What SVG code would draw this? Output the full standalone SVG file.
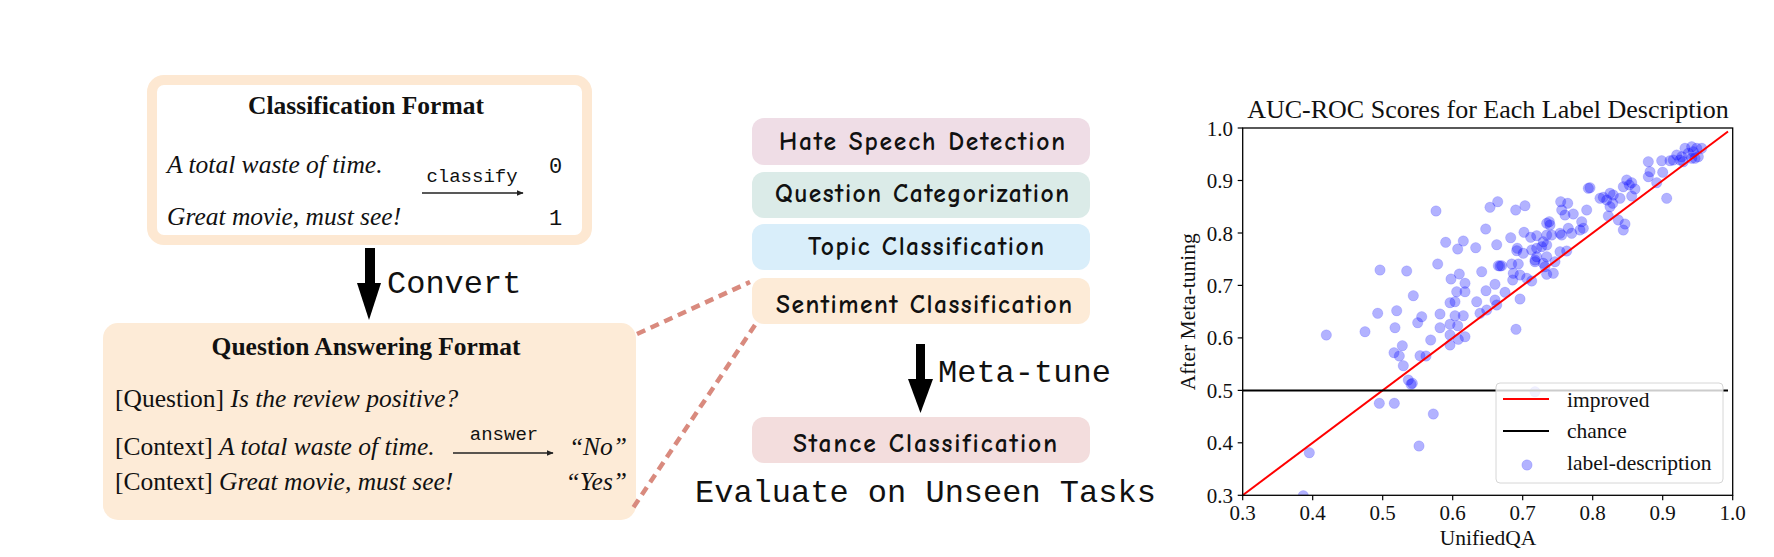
<svg xmlns="http://www.w3.org/2000/svg" width="1774" height="557" viewBox="0 0 1774 557">
<style>
.serif{font-family:"Liberation Serif","Times New Roman",serif;fill:#111}
.it{font-style:italic}
.mono{font-family:"Liberation Mono","Courier New",monospace;fill:#111}
.comic{font-family:"Comic Sans MS","Comic Neue","Open Sans",sans-serif;font-size:25.5px;font-weight:600;fill:#111}
.task{rx:12;ry:12}
.pt{fill:#0000ff;fill-opacity:0.3;stroke:#0000ff;stroke-opacity:0.12;stroke-width:1}
.tick{stroke:#000;stroke-width:1.2}
.tl{font-family:"Liberation Serif","Times New Roman",serif;font-size:21px;fill:#111}
.dash{stroke:#d98a7e;stroke-width:4.5;stroke-dasharray:9 6;fill:none}
</style>
<defs>
<marker id="ah" viewBox="0 0 10 10" refX="9" refY="5" markerWidth="7" markerHeight="7" markerUnits="userSpaceOnUse" orient="auto">
<path d="M0,1 L10,5 L0,9 z" fill="#222"/>
</marker>
<clipPath id="plotclip"><rect x="1242.7" y="128" width="490" height="367.3"/></clipPath>
</defs>
<rect width="1774" height="557" fill="#fff"/>

<g id="classification-format">
<rect x="152" y="80" width="435" height="160" rx="12" fill="#fff" stroke="#fde8d2" stroke-width="10"/>
<text class="serif" x="366" y="114" font-size="25.5" font-weight="bold" text-anchor="middle">Classification Format</text>
<text class="serif it" x="167" y="173" font-size="25.5">A total waste of time.</text>
<text class="serif it" x="167" y="225" font-size="25.5">Great movie, must see!</text>
<text class="mono" x="472" y="182" font-size="19" text-anchor="middle">classify</text>
<line x1="422" y1="193" x2="523" y2="193" stroke="#222" stroke-width="1.5" marker-end="url(#ah)"/>
<text class="mono" x="549" y="173" font-size="22">0</text>
<text class="mono" x="549" y="225" font-size="22">1</text>
</g>

<g id="qa-format">
<rect x="103" y="323" width="533" height="197" rx="15" fill="#fdebd7"/>
<text class="serif" x="366" y="355" font-size="25.5" font-weight="bold" text-anchor="middle">Question Answering Format</text>
<text class="serif" x="115" y="407" font-size="25.5">[Question] <tspan class="it">Is the review positive?</tspan></text>
<text class="serif" x="115" y="455" font-size="25.5">[Context] <tspan class="it">A total waste of time.</tspan></text>
<text class="serif" x="115" y="490" font-size="25.5">[Context] <tspan class="it">Great movie, must see!</tspan></text>
<text class="mono" x="504" y="440" font-size="19" text-anchor="middle">answer</text>
<line x1="453" y1="453" x2="553" y2="453" stroke="#222" stroke-width="1.5" marker-end="url(#ah)"/>
<text class="serif it" x="627" y="455" font-size="25.5" text-anchor="end">“No”</text>
<text class="serif it" x="627" y="490" font-size="25.5" text-anchor="end">“Yes”</text>
</g>

<g id="convert-arrow">
<rect x="365" y="248" width="10" height="36" fill="#000"/>
<polygon points="357,283 381,283 369,320" fill="#000"/>
<text class="mono" x="387" y="293" font-size="32">Convert</text>
</g>

<g id="task-hate">
<rect class="task" x="752" y="118" width="338" height="47" fill="#efdde6"/>
<text class="comic" x="779" y="150" textLength="286" lengthAdjust="spacing">Hate Speech Detection</text>
</g>
<g id="task-question">
<rect class="task" x="752" y="172" width="338" height="46" fill="#dbebe8"/>
<text class="comic" x="775" y="202" textLength="294" lengthAdjust="spacing">Question Categorization</text>
</g>
<g id="task-topic">
<rect class="task" x="752" y="224" width="338" height="46" fill="#d9eefa"/>
<text class="comic" x="808" y="255" textLength="236" lengthAdjust="spacing">Topic Classification</text>
</g>
<g id="task-sentiment">
<rect class="task" x="752" y="278" width="338" height="46" fill="#fdebd7"/>
<text class="comic" x="776" y="313" textLength="296" lengthAdjust="spacing">Sentiment Classification</text>
</g>
<g id="task-stance">
<rect class="task" x="752" y="417" width="338" height="46" fill="#f3dddd"/>
<text class="comic" x="793" y="452" textLength="264" lengthAdjust="spacing">Stance Classification</text>
</g>

<g id="meta-tune-arrow">
<rect x="916" y="344" width="9" height="36" fill="#000"/>
<polygon points="908,379 933,379 920.5,413" fill="#000"/>
<text class="mono" x="938" y="382" font-size="32">Meta-tune</text>
</g>

<g id="evaluate-label">
<text class="mono" x="695" y="502" font-size="32">Evaluate on Unseen Tasks</text>
</g>

<g id="connectors">
<line class="dash" x1="637" y1="334" x2="750" y2="282"/>
<line class="dash" x1="755" y1="325" x2="633" y2="508"/>
</g>

<g id="chart">
<text class="serif" x="1488" y="118" font-size="26" text-anchor="middle">AUC-ROC Scores for Each Label Description</text>
<g id="scatter" clip-path="url(#plotclip)">
<circle class="pt" cx="1685" cy="148.3" r="5.2"/><circle class="pt" cx="1691.7" cy="146.7" r="5.2"/><circle class="pt" cx="1696.7" cy="148.3" r="5.2"/><circle class="pt" cx="1701.7" cy="148.3" r="5.2"/><circle class="pt" cx="1693.3" cy="151.7" r="5.2"/><circle class="pt" cx="1688.3" cy="153.3" r="5.2"/><circle class="pt" cx="1676.7" cy="155" r="5.2"/><circle class="pt" cx="1681.7" cy="156.7" r="5.2"/><circle class="pt" cx="1673.3" cy="160" r="5.2"/><circle class="pt" cx="1670" cy="160.7" r="5.2"/><circle class="pt" cx="1680" cy="160" r="5.2"/><circle class="pt" cx="1695" cy="158.3" r="5.2"/><circle class="pt" cx="1698.3" cy="156.7" r="5.2"/><circle class="pt" cx="1691.7" cy="158.3" r="5.2"/><circle class="pt" cx="1683.3" cy="161.7" r="5.2"/><circle class="pt" cx="1661.7" cy="160.7" r="5.2"/><circle class="pt" cx="1648.3" cy="161.7" r="5.2"/><circle class="pt" cx="1650" cy="171.7" r="5.2"/><circle class="pt" cx="1648.3" cy="176.7" r="5.2"/><circle class="pt" cx="1662.7" cy="172.3" r="5.2"/><circle class="pt" cx="1656.7" cy="182.7" r="5.2"/><circle class="pt" cx="1666.7" cy="198.3" r="5.2"/><circle class="pt" cx="1626.7" cy="180" r="5.2"/><circle class="pt" cx="1631.7" cy="182.7" r="5.2"/><circle class="pt" cx="1635" cy="189" r="5.2"/><circle class="pt" cx="1623.3" cy="186.7" r="5.2"/><circle class="pt" cx="1629.3" cy="185" r="5.2"/><circle class="pt" cx="1590" cy="187.7" r="5.2"/><circle class="pt" cx="1588.3" cy="188.3" r="5.2"/><circle class="pt" cx="1610" cy="193.3" r="5.2"/><circle class="pt" cx="1603.3" cy="197.3" r="5.2"/><circle class="pt" cx="1613.3" cy="195" r="5.2"/><circle class="pt" cx="1606.7" cy="200" r="5.2"/><circle class="pt" cx="1600" cy="198.3" r="5.2"/><circle class="pt" cx="1620" cy="198.3" r="5.2"/><circle class="pt" cx="1631.7" cy="196" r="5.2"/><circle class="pt" cx="1612.7" cy="203.3" r="5.2"/><circle class="pt" cx="1610" cy="206.7" r="5.2"/><circle class="pt" cx="1608.3" cy="216" r="5.2"/><circle class="pt" cx="1618.3" cy="220" r="5.2"/><circle class="pt" cx="1625" cy="224" r="5.2"/><circle class="pt" cx="1623.3" cy="230" r="5.2"/><circle class="pt" cx="1560.7" cy="201.7" r="5.2"/><circle class="pt" cx="1567.7" cy="203.3" r="5.2"/><circle class="pt" cx="1561.7" cy="210" r="5.2"/><circle class="pt" cx="1565" cy="215" r="5.2"/><circle class="pt" cx="1573.3" cy="214" r="5.2"/><circle class="pt" cx="1586.7" cy="210" r="5.2"/><circle class="pt" cx="1490" cy="207.3" r="5.2"/><circle class="pt" cx="1497.7" cy="201.7" r="5.2"/><circle class="pt" cx="1515.7" cy="210" r="5.2"/><circle class="pt" cx="1525" cy="205.7" r="5.2"/><circle class="pt" cx="1436" cy="211" r="5.2"/><circle class="pt" cx="1546.7" cy="223.3" r="5.2"/><circle class="pt" cx="1549.3" cy="221.7" r="5.2"/><circle class="pt" cx="1550" cy="225" r="5.2"/><circle class="pt" cx="1560" cy="233.3" r="5.2"/><circle class="pt" cx="1568.3" cy="228.3" r="5.2"/><circle class="pt" cx="1571.7" cy="233.3" r="5.2"/><circle class="pt" cx="1580" cy="230" r="5.2"/><circle class="pt" cx="1583.3" cy="228.3" r="5.2"/><circle class="pt" cx="1581.7" cy="221.7" r="5.2"/><circle class="pt" cx="1551.7" cy="235" r="5.2"/><circle class="pt" cx="1561.7" cy="235" r="5.2"/><circle class="pt" cx="1485.7" cy="229" r="5.2"/><circle class="pt" cx="1524" cy="232.3" r="5.2"/><circle class="pt" cx="1510.7" cy="237.7" r="5.2"/><circle class="pt" cx="1530.7" cy="237.3" r="5.2"/><circle class="pt" cx="1536.7" cy="235.7" r="5.2"/><circle class="pt" cx="1546.7" cy="235" r="5.2"/><circle class="pt" cx="1543.3" cy="241.7" r="5.2"/><circle class="pt" cx="1496.7" cy="244.7" r="5.2"/><circle class="pt" cx="1517.3" cy="248.3" r="5.2"/><circle class="pt" cx="1516.7" cy="250.7" r="5.2"/><circle class="pt" cx="1523.3" cy="253.3" r="5.2"/><circle class="pt" cx="1531.7" cy="250" r="5.2"/><circle class="pt" cx="1536.7" cy="248.3" r="5.2"/><circle class="pt" cx="1541.7" cy="246.7" r="5.2"/><circle class="pt" cx="1546.7" cy="245" r="5.2"/><circle class="pt" cx="1560" cy="251.7" r="5.2"/><circle class="pt" cx="1566.7" cy="251" r="5.2"/><circle class="pt" cx="1445.7" cy="242.3" r="5.2"/><circle class="pt" cx="1463.3" cy="241" r="5.2"/><circle class="pt" cx="1457.7" cy="249" r="5.2"/><circle class="pt" cx="1475.7" cy="247.7" r="5.2"/><circle class="pt" cx="1437.7" cy="264" r="5.2"/><circle class="pt" cx="1406.7" cy="271" r="5.2"/><circle class="pt" cx="1380" cy="270" r="5.2"/><circle class="pt" cx="1459.3" cy="274" r="5.2"/><circle class="pt" cx="1451" cy="279" r="5.2"/><circle class="pt" cx="1465" cy="283.3" r="5.2"/><circle class="pt" cx="1456.7" cy="291.7" r="5.2"/><circle class="pt" cx="1465" cy="291.7" r="5.2"/><circle class="pt" cx="1450" cy="302.7" r="5.2"/><circle class="pt" cx="1455" cy="301.7" r="5.2"/><circle class="pt" cx="1476.7" cy="301.7" r="5.2"/><circle class="pt" cx="1495" cy="284.3" r="5.2"/><circle class="pt" cx="1486" cy="290.7" r="5.2"/><circle class="pt" cx="1505" cy="292.3" r="5.2"/><circle class="pt" cx="1520" cy="299" r="5.2"/><circle class="pt" cx="1495" cy="300" r="5.2"/><circle class="pt" cx="1496.7" cy="305" r="5.2"/><circle class="pt" cx="1498.3" cy="265.7" r="5.2"/><circle class="pt" cx="1501.7" cy="265.7" r="5.2"/><circle class="pt" cx="1500" cy="266" r="5.2"/><circle class="pt" cx="1511.7" cy="264" r="5.2"/><circle class="pt" cx="1518.3" cy="264" r="5.2"/><circle class="pt" cx="1481.7" cy="271.7" r="5.2"/><circle class="pt" cx="1513.3" cy="273.3" r="5.2"/><circle class="pt" cx="1512.7" cy="280" r="5.2"/><circle class="pt" cx="1520" cy="275" r="5.2"/><circle class="pt" cx="1526.7" cy="278.3" r="5.2"/><circle class="pt" cx="1531.7" cy="281" r="5.2"/><circle class="pt" cx="1535" cy="260" r="5.2"/><circle class="pt" cx="1536.7" cy="256.7" r="5.2"/><circle class="pt" cx="1535" cy="261.7" r="5.2"/><circle class="pt" cx="1543.3" cy="263.3" r="5.2"/><circle class="pt" cx="1546.7" cy="256.7" r="5.2"/><circle class="pt" cx="1546.7" cy="274.3" r="5.2"/><circle class="pt" cx="1553.3" cy="273.3" r="5.2"/><circle class="pt" cx="1555" cy="261.7" r="5.2"/><circle class="pt" cx="1545" cy="266.7" r="5.2"/><circle class="pt" cx="1413.3" cy="295.7" r="5.2"/><circle class="pt" cx="1396.7" cy="310.7" r="5.2"/><circle class="pt" cx="1421.7" cy="316.7" r="5.2"/><circle class="pt" cx="1440" cy="314" r="5.2"/><circle class="pt" cx="1455" cy="315.7" r="5.2"/><circle class="pt" cx="1463.3" cy="315.7" r="5.2"/><circle class="pt" cx="1480" cy="313.3" r="5.2"/><circle class="pt" cx="1486.7" cy="310" r="5.2"/>
<circle class="pt" cx="1326.3" cy="335" r="5.2"/><circle class="pt" cx="1365" cy="331.7" r="5.2"/><circle class="pt" cx="1377.7" cy="313.3" r="5.2"/><circle class="pt" cx="1395" cy="327.7" r="5.2"/><circle class="pt" cx="1440" cy="327.7" r="5.2"/><circle class="pt" cx="1450" cy="324.3" r="5.2"/><circle class="pt" cx="1457.7" cy="325.7" r="5.2"/><circle class="pt" cx="1450" cy="335" r="5.2"/><circle class="pt" cx="1458.3" cy="339.3" r="5.2"/><circle class="pt" cx="1465" cy="336.7" r="5.2"/><circle class="pt" cx="1450" cy="345" r="5.2"/><circle class="pt" cx="1430.7" cy="340" r="5.2"/><circle class="pt" cx="1417.7" cy="322.7" r="5.2"/><circle class="pt" cx="1516" cy="329.3" r="5.2"/><circle class="pt" cx="1402.3" cy="345.7" r="5.2"/><circle class="pt" cx="1394" cy="352.7" r="5.2"/><circle class="pt" cx="1399.3" cy="356" r="5.2"/><circle class="pt" cx="1403.3" cy="365.7" r="5.2"/><circle class="pt" cx="1420" cy="355.7" r="5.2"/><circle class="pt" cx="1426" cy="356" r="5.2"/><circle class="pt" cx="1408.3" cy="380" r="5.2"/><circle class="pt" cx="1411" cy="384.3" r="5.2"/><circle class="pt" cx="1412.3" cy="383.3" r="5.2"/><circle class="pt" cx="1535" cy="391.7" r="5.2"/>
<circle class="pt" cx="1379.3" cy="403.3" r="5.2"/><circle class="pt" cx="1394.3" cy="403.3" r="5.2"/><circle class="pt" cx="1433.3" cy="414" r="5.2"/><circle class="pt" cx="1419" cy="446" r="5.2"/><circle class="pt" cx="1309.3" cy="452.7" r="5.2"/><circle class="pt" cx="1303.3" cy="495.7" r="5.2"/>
</g>
<line x1="1242.7" y1="495.3" x2="1728" y2="131.5" stroke="#ff0000" stroke-width="2"/>
<line x1="1242.7" y1="390.4" x2="1728" y2="390.4" stroke="#000" stroke-width="2"/>
<rect x="1242.7" y="128" width="490" height="367.3" fill="none" stroke="#000" stroke-width="1.3"/>
<g id="yticks">
<line class="tick" x1="1237.7" y1="128" x2="1242.7" y2="128"/>
<line class="tick" x1="1237.7" y1="180.5" x2="1242.7" y2="180.5"/>
<line class="tick" x1="1237.7" y1="233" x2="1242.7" y2="233"/>
<line class="tick" x1="1237.7" y1="285.4" x2="1242.7" y2="285.4"/>
<line class="tick" x1="1237.7" y1="337.9" x2="1242.7" y2="337.9"/>
<line class="tick" x1="1237.7" y1="390.4" x2="1242.7" y2="390.4"/>
<line class="tick" x1="1237.7" y1="442.8" x2="1242.7" y2="442.8"/>
<line class="tick" x1="1237.7" y1="495.3" x2="1242.7" y2="495.3"/>
<text class="tl" x="1233" y="135.5" text-anchor="end">1.0</text>
<text class="tl" x="1233" y="188" text-anchor="end">0.9</text>
<text class="tl" x="1233" y="240.5" text-anchor="end">0.8</text>
<text class="tl" x="1233" y="292.9" text-anchor="end">0.7</text>
<text class="tl" x="1233" y="345.4" text-anchor="end">0.6</text>
<text class="tl" x="1233" y="397.9" text-anchor="end">0.5</text>
<text class="tl" x="1233" y="450.3" text-anchor="end">0.4</text>
<text class="tl" x="1233" y="502.8" text-anchor="end">0.3</text>
</g>
<g id="xticks">
<line class="tick" x1="1242.7" y1="495.3" x2="1242.7" y2="500.3"/>
<line class="tick" x1="1312.7" y1="495.3" x2="1312.7" y2="500.3"/>
<line class="tick" x1="1382.7" y1="495.3" x2="1382.7" y2="500.3"/>
<line class="tick" x1="1452.7" y1="495.3" x2="1452.7" y2="500.3"/>
<line class="tick" x1="1522.7" y1="495.3" x2="1522.7" y2="500.3"/>
<line class="tick" x1="1592.7" y1="495.3" x2="1592.7" y2="500.3"/>
<line class="tick" x1="1662.7" y1="495.3" x2="1662.7" y2="500.3"/>
<line class="tick" x1="1732.7" y1="495.3" x2="1732.7" y2="500.3"/>
<text class="tl" x="1242.7" y="519.5" text-anchor="middle">0.3</text>
<text class="tl" x="1312.7" y="519.5" text-anchor="middle">0.4</text>
<text class="tl" x="1382.7" y="519.5" text-anchor="middle">0.5</text>
<text class="tl" x="1452.7" y="519.5" text-anchor="middle">0.6</text>
<text class="tl" x="1522.7" y="519.5" text-anchor="middle">0.7</text>
<text class="tl" x="1592.7" y="519.5" text-anchor="middle">0.8</text>
<text class="tl" x="1662.7" y="519.5" text-anchor="middle">0.9</text>
<text class="tl" x="1732.7" y="519.5" text-anchor="middle">1.0</text>
</g>
<text class="serif" x="1488" y="545" font-size="21.5" text-anchor="middle">UnifiedQA</text>
<text class="serif" x="0" y="0" font-size="21.5" text-anchor="middle" transform="translate(1195,311.7) rotate(-90)">After Meta-tuning</text>
<g id="legend">
<rect x="1496" y="383" width="227" height="100" rx="4" fill="#fff" fill-opacity="0.8" stroke="#d6d6d6" stroke-width="1"/>
<line x1="1503" y1="399" x2="1549" y2="399" stroke="#ff0000" stroke-width="2"/>
<line x1="1503" y1="431" x2="1549" y2="431" stroke="#000" stroke-width="2"/>
<circle class="pt" cx="1527" cy="465" r="5.2"/>
<text class="serif" x="1567" y="407" font-size="21.5">improved</text>
<text class="serif" x="1567" y="438" font-size="21.5">chance</text>
<text class="serif" x="1567" y="470" font-size="21.5">label-description</text>
</g>
</g>
</svg>
